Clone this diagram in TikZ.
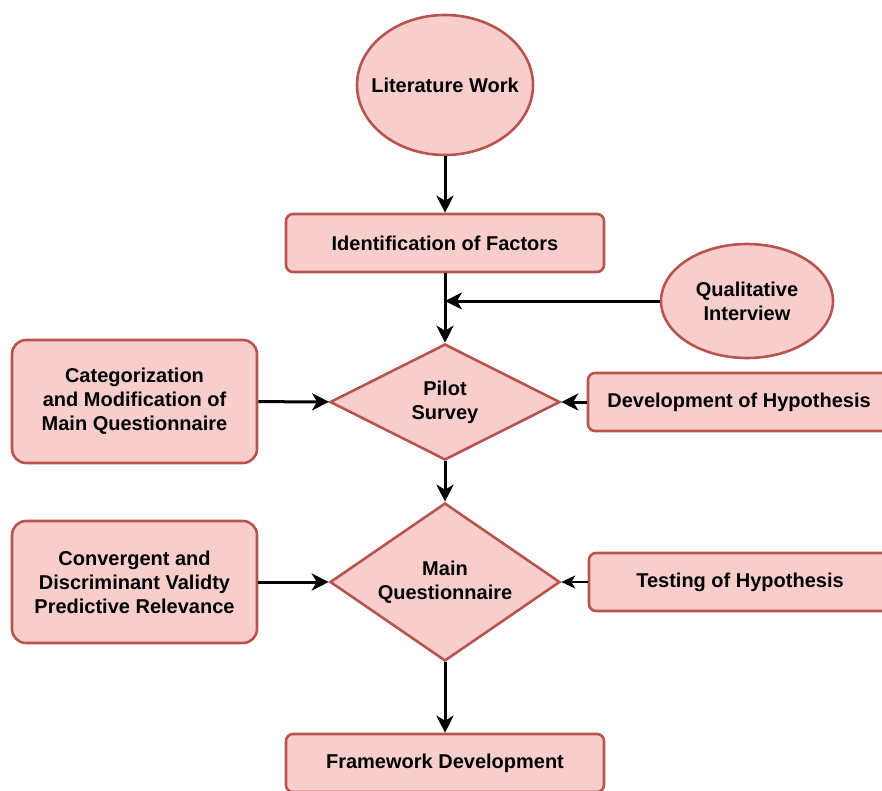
\documentclass[tikz,border=0pt]{standalone}
\usepackage{fontspec}
\setmainfont{Liberation Sans}
\usetikzlibrary{shapes.geometric,arrows.meta}
\definecolor{fillred}{HTML}{F8CECC}
\definecolor{edgered}{HTML}{B85450}
\tikzset{
  lbl/.style={font=\bfseries\fontsize{20}{24}\selectfont, align=center},
  base/.style={draw=edgered, fill=fillred, line width=2.6pt, lbl, inner sep=0pt},
  rbox/.style={base, rectangle, rounded corners=7pt, minimum width=#1},
  oval/.style={base, ellipse},
  dia/.style={base, diamond, aspect=2},
  conn/.style={line width=3pt, -{Stealth[length=17pt,width=17pt,inset=5pt]}},
  thin/.style={line width=1.5pt, -{Stealth[length=14pt,width=13pt,inset=4pt]}}
}
\begin{document}
\begin{tikzpicture}[x=1pt,y=-1pt]
\useasboundingbox (0,0) rectangle (882,790);
\clip (0,0) rectangle (882,790);
\node[oval, minimum width=176pt, minimum height=140pt, label={[lbl]center:Literature Work}] (lit) at (445,85) {};
\node[rbox=318pt, minimum height=58pt] (ident) at (445,243) {Identification of Factors};
\node[oval, minimum width=172pt, minimum height=114pt, label={[lbl]center:Qualitative\\Interview}] (qual) at (747,301) {};
\node[dia, minimum width=230pt, minimum height=116pt, label={[lbl]center:Pilot\\Survey}] (pilot) at (445,402) {};
\node[rbox=245pt, minimum height=123pt, rounded corners=14pt] (cat) at (134.5,401.5) {Categorization\\and Modification of\\Main Questionnaire};
\node[rbox=302pt, minimum height=58pt] (dev) at (739,402) {Development of Hypothesis};
\node[dia, minimum width=230pt, minimum height=158pt, label={[lbl]center:Main\\Questionnaire}] (mainq) at (445,582) {};
\node[rbox=245pt, minimum height=122pt, rounded corners=14pt] (conv) at (134.5,582) {Convergent and\\Discriminant Validty\\Predictive Relevance};
\node[rbox=302pt, minimum height=58pt] (test) at (740,582) {Testing of Hypothesis};
\node[rbox=318pt, minimum height=58pt] (frame) at (445,763) {Framework Development};
\coordinate (join) at (445,301);
\draw[conn] (lit) -- (ident);
\draw[conn] (ident) -- (pilot);
\draw[conn] (qual) -- (join);
\draw[conn] (cat) -- (pilot);
\draw[conn] (dev) -- (pilot);
\draw[conn] (pilot) -- (mainq);
\draw[conn] (conv) -- (mainq);
\draw[thin] (test) -- (mainq);
\draw[conn] (mainq) -- (frame);
\end{tikzpicture}
\end{document}
